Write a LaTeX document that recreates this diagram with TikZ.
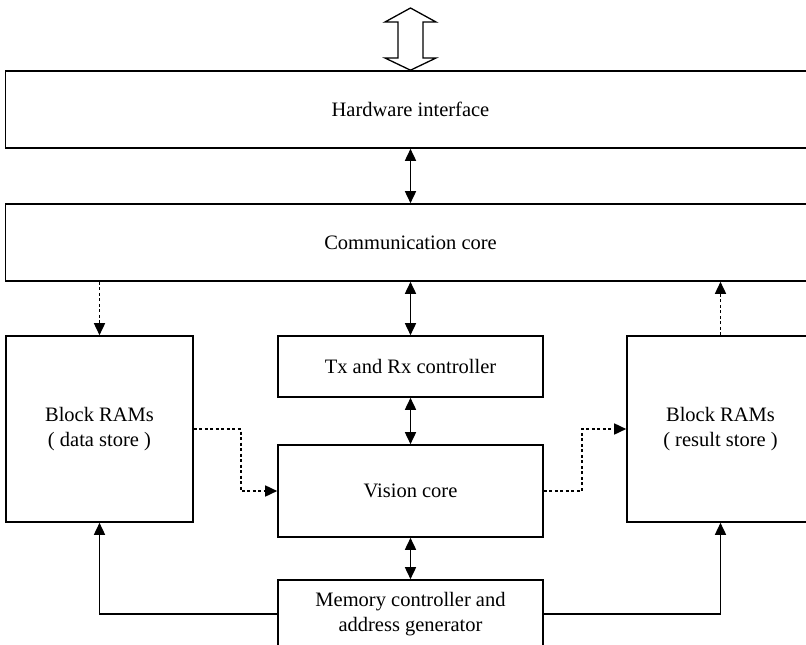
\documentclass[tikz,border=0pt]{standalone}
\usepackage{fontspec}
\setmainfont{Liberation Serif}
\usetikzlibrary{arrows.meta}
\begin{document}
\begin{tikzpicture}[x=1pt,y=-1pt,
  box/.style={draw,line width=1.6pt,inner sep=0pt,align=center,
    font=\fontsize{20.5}{25}\selectfont},
  arr/.style={line width=1.6pt,{Triangle[length=12pt,width=11pt]}-{Triangle[length=12pt,width=11pt]}},
  sarr/.style={line width=1.6pt,-{Triangle[length=12pt,width=11pt]}},
  darr/.style={line width=1.6pt,dash pattern=on 3pt off 2.5pt,-{Triangle[length=12pt,width=11pt]}}]
\clip (0,0) rectangle (806,645);
\fill[white] (0,0) rectangle (806,645);
\node[box,minimum width=810pt,minimum height=77pt] (hw) at (410.5,109.5) {Hardware interface};
\node[box,minimum width=810pt,minimum height=77pt] (comm) at (410.5,242.5) {Communication core};
\node[box,minimum width=187pt,minimum height=186pt] (lb) at (99.5,429) {Block RAMs\\( data store )};
\node[box,minimum width=187pt,minimum height=186pt] (rb) at (720.5,429) {Block RAMs\\( result store )};
\node[box,minimum width=265pt,minimum height=61pt] (tx) at (410.5,366.5) {Tx and Rx controller};
\node[box,minimum width=265pt,minimum height=92pt] (vis) at (410.5,491) {Vision core};
\node[box,minimum width=265pt,minimum height=68pt] (mem) at (410.5,614) {Memory controller and\\address generator};
% big hollow arrow
\coordinate (top) at (410.5,8);
\draw[line width=1.3pt,fill=white,line join=miter] (top) -- (436,22) -- (423,22) -- (423,58) -- (436,58) -- (hw.north) -- (385,58) -- (398,58) -- (398,22) -- (385,22) -- cycle;
% vertical bidirectional arrows
\draw[arr] (hw.south) -- (comm.north);
\draw[arr] (comm.south) -- (tx.north);
\draw[arr] (tx.south) -- (vis.north);
\draw[arr] (vis.south) -- (mem.north);
% dotted arrows
\draw[darr] (comm.south -| lb.north) -- (lb.north);
\draw[darr] (rb.north) -- (comm.south -| rb.north);
\draw[darr] (lb.east) -- ++(47,0) |- (vis.west);
\draw[darr] (vis.east) -- ++(38,0) |- (rb.west);
% memory arrows
\draw[sarr] (mem.west) -| (lb.south);
\draw[sarr] (mem.east) -| (rb.south);
\end{tikzpicture}
\end{document}
